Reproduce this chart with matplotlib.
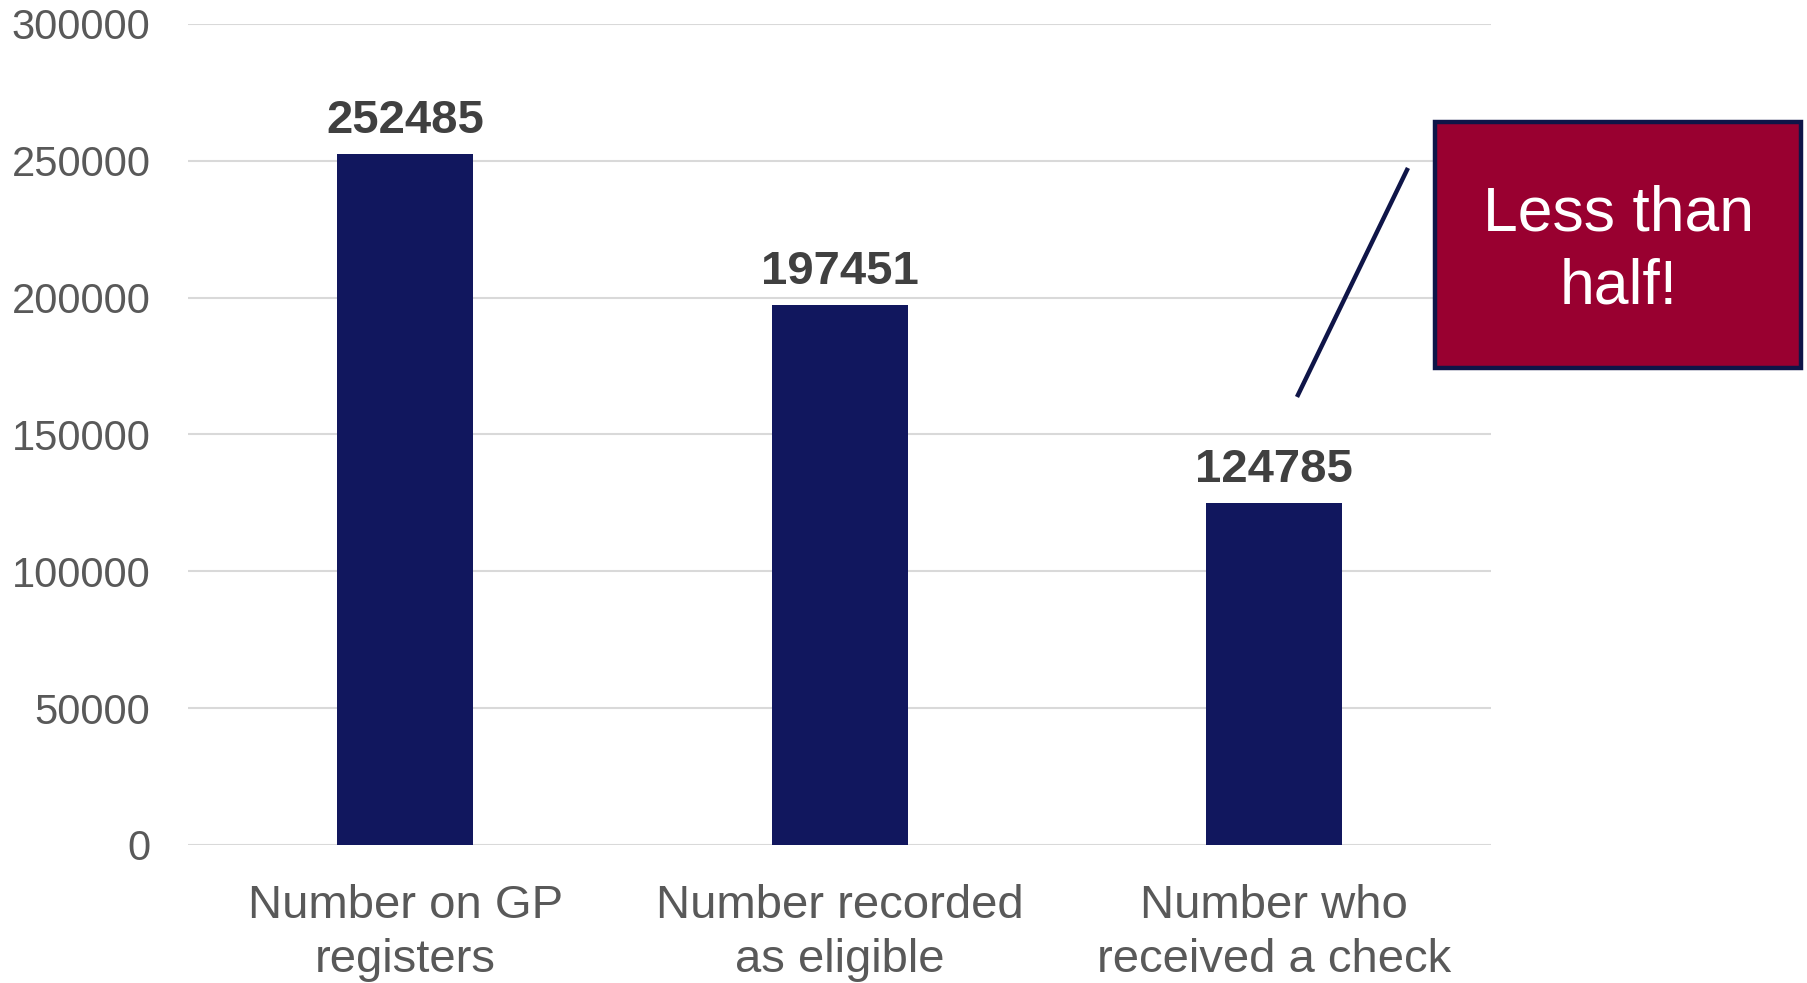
import matplotlib
matplotlib.use("Agg")
import matplotlib.pyplot as plt
from matplotlib.patches import Rectangle
from matplotlib.lines import Line2D

categories = ["Number on GP\nregisters", "Number recorded\nas eligible", "Number who\nreceived a check"]
values = [252485, 197451, 124785]
yticks = [0, 50000, 100000, 150000, 200000, 250000, 300000]
callout_text = "Less than\nhalf!"

plt.rcParams['font.family'] = ['Liberation Sans', 'DejaVu Sans']

BAR = "#11175E"
GRID = "#D9D9D9"
TICK = "#595959"

fig = plt.figure(figsize=(18.08, 9.83), dpi=100)
ax = fig.add_axes([0.104, 0.1404, 0.7207, 0.8352])

x = list(range(len(values)))
ax.bar(x, values, width=0.313, color=BAR, zorder=3)
ax.set_xlim(-0.5, len(values) - 0.5)
ax.set_ylim(0, 300000)
ax.set_yticks(yticks)
ax.set_yticklabels([str(v) for v in yticks])
ax.set_xticks(x)
ax.set_xticklabels(categories, linespacing=1.3)
ax.tick_params(axis='y', length=0, pad=27, labelsize=30, labelcolor=TICK)
ax.tick_params(axis='x', length=0, pad=28, labelsize=34, labelcolor=TICK)
ax.yaxis.grid(True, color=GRID, linewidth=1.5, zorder=0)
ax.set_axisbelow(True)
for s in ax.spines.values():
    s.set_visible(False)

for xi, v in zip(x, values):
    ax.annotate(str(v), (xi, v), xytext=(0, 8), textcoords='offset points',
                ha='center', va='bottom', fontsize=34, fontweight='bold', color="#404040")

# callout
fig.add_artist(Line2D([0.7179, 0.7782], [0.5982, 0.8271], transform=fig.transFigure,
                      color="#0F1548", linewidth=3.2))
fig.add_artist(Rectangle((0.7937, 0.6256), 0.2024, 0.2503, transform=fig.transFigure,
                         facecolor="#990030", edgecolor="#0F1548", linewidth=3.2))
fig.text(0.895, 0.745, callout_text, ha='center', va='center', color='white',
         fontsize=45, linespacing=1.3)

fig.savefig("out.png", dpi=100)
